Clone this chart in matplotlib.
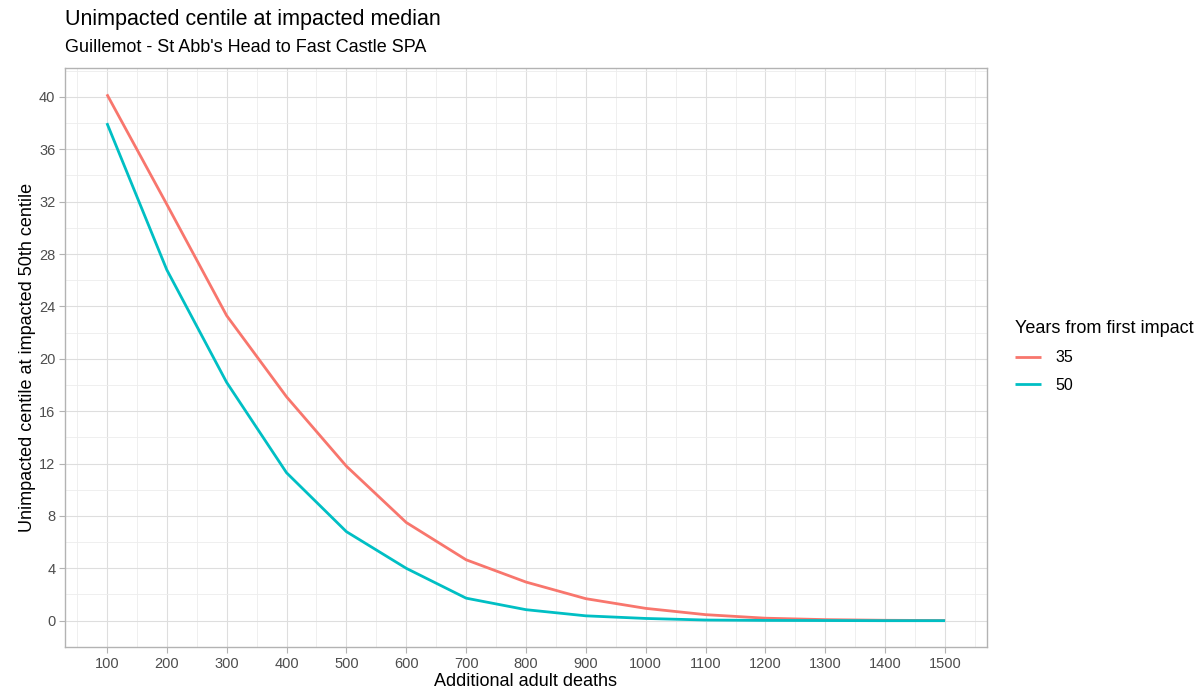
import matplotlib
matplotlib.use('agg')
import matplotlib.pyplot as plt
from matplotlib.ticker import MultipleLocator

plt.rcParams['font.family'] = ['Liberation Sans', 'DejaVu Sans']

# Additional adult deaths and centile values for each impact horizon
deaths = [100, 200, 300, 400, 500, 600, 700, 800, 900, 1000, 1100, 1200, 1300, 1400, 1500]
centile_35 = [40.2, 31.8, 23.3, 17.1, 11.8, 7.5, 4.65, 2.95, 1.68, 0.94, 0.46, 0.19, 0.08, 0.03, 0.01]
centile_50 = [38.0, 26.8, 18.2, 11.3, 6.8, 4.0, 1.72, 0.84, 0.37, 0.17, 0.05, 0.02, 0.01, 0.0, 0.0]
series_labels = ['35', '50']
series_colors = ['#F8766D', '#00BFC4']

W, H = 1201, 693
fig = plt.figure(figsize=(W / 100, H / 100), dpi=100)
ax = fig.add_axes([65 / W, 1 - 647 / H, (987 - 65) / W, (647 - 68) / H])

for vals, lab, col in zip([centile_35, centile_50], series_labels, series_colors):
    ax.plot(deaths, vals, color=col, lw=2.0, label=lab, solid_capstyle='butt')

# ggplot-style 5% expansion around the data range
ymax = max(centile_35)
ax.set_xlim(100 - 0.05 * 1400, 1500 + 0.05 * 1400)
ax.set_ylim(-0.05 * ymax, ymax * 1.05)
ax.xaxis.set_major_locator(MultipleLocator(100))
ax.xaxis.set_minor_locator(MultipleLocator(50))
ax.yaxis.set_major_locator(MultipleLocator(4))
ax.yaxis.set_minor_locator(MultipleLocator(2))

ax.grid(which='major', color='#DEDEDE', lw=0.8)
ax.grid(which='minor', color='#EDEDED', lw=0.6)
ax.set_axisbelow(True)
for s in ax.spines.values():
    s.set_color('#B3B3B3')
    s.set_linewidth(1.0)
ax.tick_params(which='major', length=4, color='#B3B3B3', labelcolor='#4D4D4D', labelsize=10.5, pad=3)
ax.tick_params(which='minor', length=0)

ax.set_xlabel('Additional adult deaths', fontsize=13, labelpad=2)
ax.set_ylabel('Unimpacted centile at impacted 50th centile', fontsize=13, labelpad=2)

fig.text(65 / W, 1 - 20 / H, 'Unimpacted centile at impacted median', fontsize=15.5, va='center', ha='left')
fig.text(65 / W, 1 - 48 / H, "Guillemot - St Abb's Head to Fast Castle SPA", fontsize=13, va='center', ha='left')

leg = ax.legend(title='Years from first impact', loc='upper left', bbox_to_anchor=(1001 / W, 1 - 306 / H),
                bbox_transform=fig.transFigure, frameon=False, fontsize=11.5, title_fontsize=13,
                handlelength=1.6, handletextpad=0.9, labelspacing=0.8, alignment='left')

fig.savefig('out.png', dpi=100)
